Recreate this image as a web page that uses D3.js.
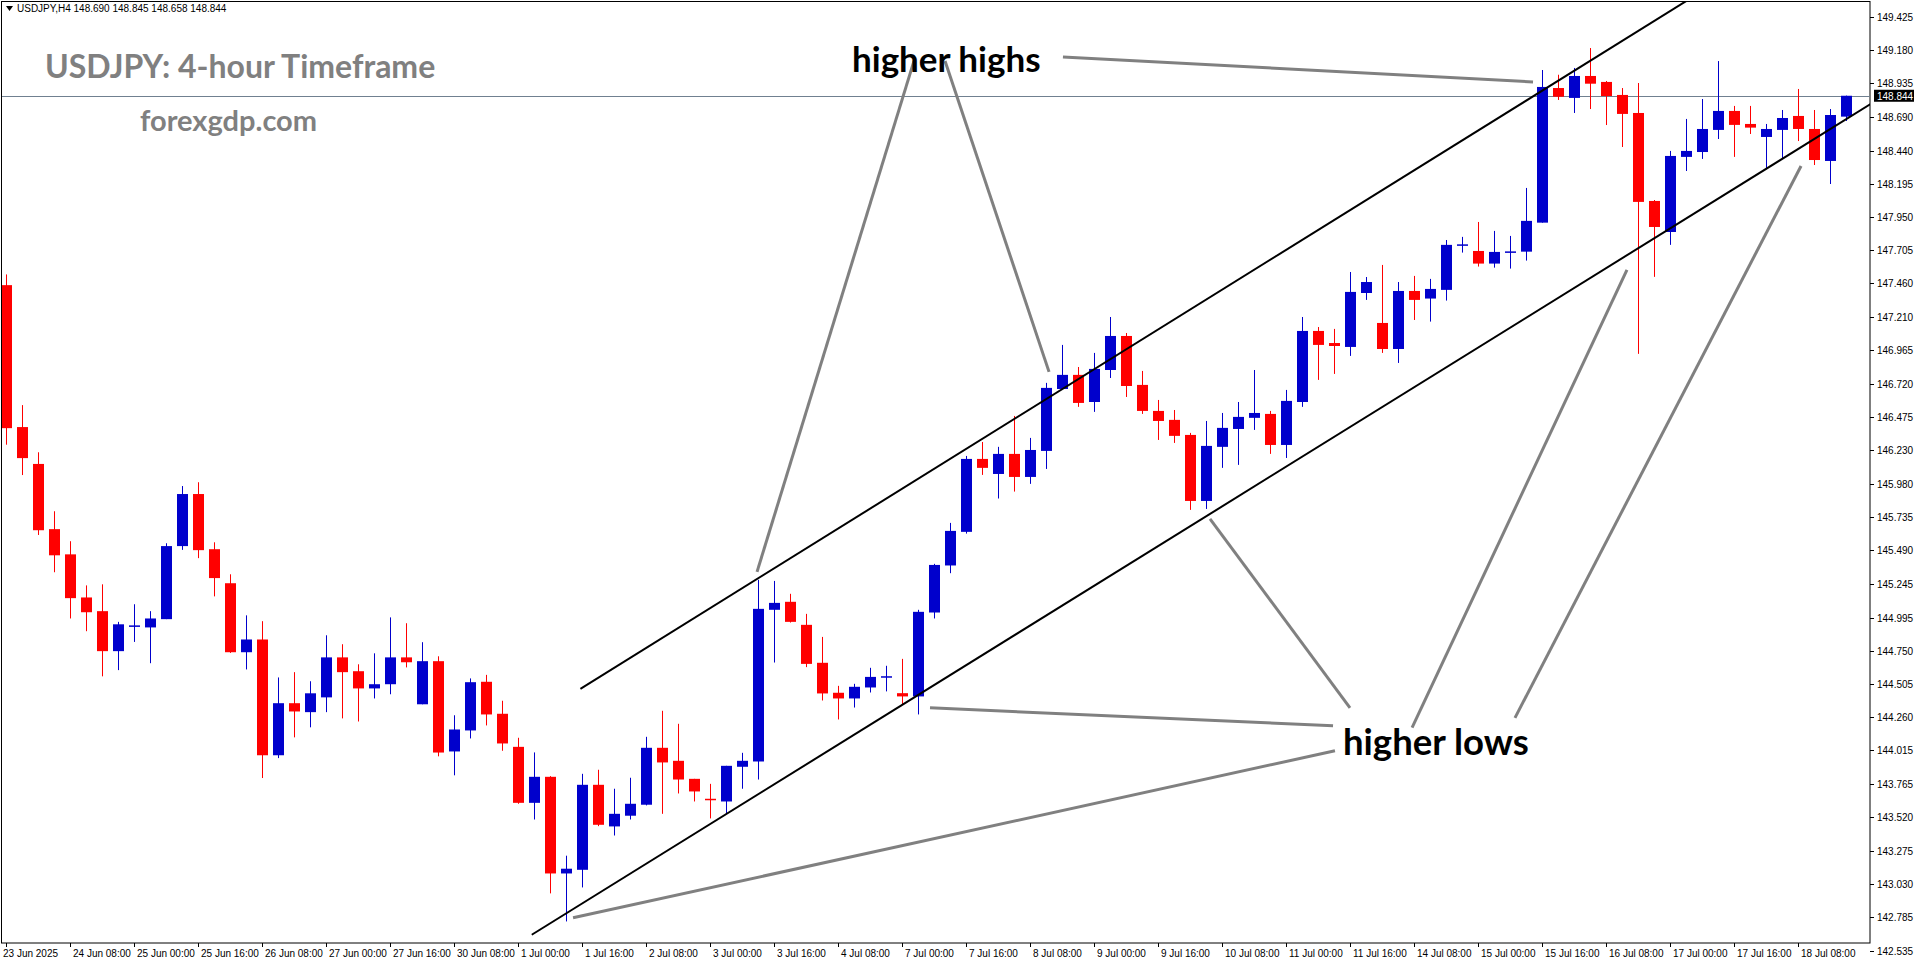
<!DOCTYPE html>
<html>
<head>
<meta charset="utf-8">
<script src="https://cdn.jsdelivr.net/npm/d3@7"></script>
<style>
  body { margin: 0; background: #fff; }
  svg { display: block; }
</style>
</head>
<body>
<div id="chart"></div>
<script>
// USDJPY H4 candles, oldest first (open, high, low, close)
var opens = [147.447,146.400,146.128,145.647,145.461,145.143,145.042,144.747,144.927,144.922,
  144.983,145.522,145.906,145.499,145.248,144.739,144.833,143.979,144.363,144.297,
  144.406,144.701,144.599,144.472,144.503,144.701,144.355,144.673,144.007,144.162,
  144.521,144.285,144.041,143.628,143.820,143.107,143.134,143.761,143.454,143.533,
  143.614,144.034,143.938,143.805,143.658,143.638,143.894,143.933,145.052,145.111,
  144.941,144.661,144.440,144.398,144.479,144.560,144.437,144.413,145.032,145.379,
  145.627,146.165,146.054,146.202,146.032,146.224,146.681,146.785,146.585,146.821,
  147.072,146.711,146.519,146.453,146.342,145.855,146.254,146.386,146.468,146.497,
  146.268,146.585,147.109,147.020,146.991,147.389,147.168,146.976,147.404,147.348,
  147.412,147.740,147.699,147.606,147.690,147.694,147.908,148.901,148.828,148.990,
  148.946,148.850,148.717,148.068,147.839,148.393,148.429,148.592,148.732,148.636,
  148.540,148.592,148.695,148.599,148.363,148.690];
var highs = [147.526,146.562,146.214,145.779,145.558,145.232,145.240,144.963,145.093,145.042,
  145.543,145.965,145.993,145.550,145.314,145.011,144.968,144.553,144.592,144.525,
  144.864,144.798,144.650,144.731,144.996,144.953,144.813,144.709,144.274,144.546,
  144.572,144.381,144.108,144.000,143.825,143.238,143.842,143.872,143.732,143.813,
  144.115,144.307,144.211,143.805,143.768,143.901,143.997,145.273,145.265,145.170,
  145.022,144.852,144.491,144.506,144.624,144.639,144.690,145.052,145.391,145.693,
  146.187,146.290,146.254,146.482,146.320,146.726,147.006,146.843,146.947,147.212,
  147.094,146.814,146.600,146.526,146.357,146.445,146.504,146.585,146.821,146.519,
  146.674,147.212,147.138,147.124,147.544,147.507,147.596,147.470,147.515,147.493,
  147.780,147.803,147.913,147.847,147.810,148.164,149.034,148.999,149.049,149.196,
  148.953,148.901,148.938,148.075,148.437,148.673,148.820,149.100,148.769,148.769,
  148.636,148.739,148.894,148.739,148.746,148.845];
var lows = [146.270,146.046,145.604,145.329,144.988,144.894,144.561,144.607,144.815,144.658,
  144.983,145.494,145.433,145.151,144.734,144.612,143.811,143.958,144.111,144.185,
  144.297,144.251,144.228,144.398,144.429,144.627,144.355,143.971,143.831,144.103,
  144.199,144.012,143.621,143.505,142.960,142.753,143.004,143.456,143.387,143.505,
  143.609,143.547,143.697,143.638,143.513,143.547,143.732,143.800,144.663,144.958,
  144.629,144.383,144.243,144.331,144.442,144.450,144.353,144.280,144.988,145.322,
  145.614,146.047,145.873,145.924,145.981,146.091,146.681,146.549,146.512,146.762,
  146.622,146.497,146.305,146.283,145.789,145.796,146.099,146.121,146.379,146.202,
  146.172,146.549,146.748,146.792,146.925,147.338,146.947,146.873,147.190,147.178,
  147.333,147.687,147.584,147.576,147.569,147.628,147.908,148.813,148.717,148.746,
  148.628,148.466,146.940,147.508,147.744,148.289,148.378,148.525,148.393,148.562,
  148.304,148.385,148.510,148.333,148.193,148.658];
var closes = [146.392,146.171,145.639,145.454,145.138,145.034,144.747,144.945,144.937,144.988,
  145.522,145.906,145.492,145.286,144.739,144.833,143.979,144.363,144.302,144.436,
  144.701,144.592,144.472,144.503,144.701,144.665,144.673,143.999,144.169,144.518,
  144.280,144.066,143.628,143.820,143.107,143.142,143.761,143.466,143.547,143.621,
  144.034,143.926,143.800,143.712,143.653,143.901,143.938,145.059,145.103,144.963,
  144.653,144.435,144.398,144.484,144.557,144.562,144.413,145.037,145.383,145.634,
  146.165,146.099,146.202,146.032,146.231,146.689,146.785,146.578,146.829,147.072,
  146.703,146.519,146.445,146.335,145.855,146.261,146.394,146.475,146.504,146.268,
  146.593,147.109,147.006,146.998,147.397,147.470,146.976,147.404,147.338,147.419,
  147.744,147.748,147.606,147.692,147.696,147.921,148.909,148.837,148.990,148.933,
  148.842,148.710,148.061,147.876,148.400,148.437,148.599,148.732,148.629,148.609,
  148.599,148.680,148.599,148.370,148.702,148.844];

var priceTicks = ["149.425","149.180","148.935","148.690","148.440","148.195","147.950","147.705",
  "147.460","147.210","146.965","146.720","146.475","146.230","145.980","145.735","145.490",
  "145.245","144.995","144.750","144.505","144.260","144.015","143.765","143.520","143.275",
  "143.030","142.785","142.535"];
var dateLabels = ["23 Jun 2025","24 Jun 08:00","25 Jun 00:00","25 Jun 16:00","26 Jun 08:00",
  "27 Jun 00:00","27 Jun 16:00","30 Jun 08:00","1 Jul 00:00","1 Jul 16:00","2 Jul 08:00",
  "3 Jul 00:00","3 Jul 16:00","4 Jul 08:00","7 Jul 00:00","7 Jul 16:00","8 Jul 08:00",
  "9 Jul 00:00","9 Jul 16:00","10 Jul 08:00","11 Jul 00:00","11 Jul 16:00","14 Jul 08:00",
  "15 Jul 00:00","15 Jul 16:00","16 Jul 08:00","17 Jul 00:00","17 Jul 16:00","18 Jul 08:00"];
var labelEvery = 4;
var lastPrice = 148.844;

// channel lines and pointer lines: [bar, price] pairs
var channelUpper = [[35.9, 144.469], [106, 149.615]];
var channelLower = [[32.86, 142.655], [118, 148.890]];
var highPointers = [
  [[56.75, 149.101], [46.94, 145.332]],
  [[58.69, 149.101], [65.19, 146.807]],
  [[66.06, 149.130], [95.44, 148.946]]
];
var lowPointers = [
  [[84.0, 144.329], [75.25, 145.723]],
  [[82.94, 144.196], [57.75, 144.329]],
  [[83.06, 144.012], [35.44, 142.780]],
  [[87.88, 144.182], [101.31, 147.559]],
  [[94.31, 144.255], [112.19, 148.326]]
];

var W = 1916, H = 964, plotR = 1870, plotB = 943;
var axisFont = "Liberation Sans, Arial, sans-serif";

var candles = opens.map(function(o, i) {
  return {i: i, o: o, h: highs[i], l: lows[i], c: closes[i]};
});

var x = d3.scaleLinear().domain([0, 1]).range([6, 22]);
var y = d3.scaleLinear().domain([142.535, 149.425]).range([951, 17]);

var svg = d3.select("#chart").append("svg")
  .attr("width", W).attr("height", H);

svg.append("defs").append("clipPath").attr("id", "plot")
  .append("rect").attr("x", 2).attr("y", 2).attr("width", plotR - 2).attr("height", plotB - 2);

// frame
svg.append("rect").attr("x", 1.5).attr("y", 1.5)
  .attr("width", plotR - 1.5).attr("height", plotB - 1.5)
  .attr("fill", "none").attr("stroke", "#000").attr("stroke-width", 1);

var plot = svg.append("g").attr("clip-path", "url(#plot)");

// last price line
plot.append("line")
  .attr("x1", 0).attr("x2", plotR)
  .attr("y1", Math.round(y(lastPrice)) + 0.5).attr("y2", Math.round(y(lastPrice)) + 0.5)
  .attr("stroke", "#708090").attr("stroke-width", 1);

// candles
var g = plot.selectAll("g.candle").data(candles).enter().append("g").attr("class", "candle");
g.append("line")
  .attr("x1", function(d) { return Math.round(x(d.i)) + 0.5; })
  .attr("x2", function(d) { return Math.round(x(d.i)) + 0.5; })
  .attr("y1", function(d) { return y(d.h); })
  .attr("y2", function(d) { return y(d.l); })
  .attr("stroke", function(d) { return d.c >= d.o ? "#0000cc" : "#ff0000"; })
  .attr("stroke-width", 1);
g.append("rect")
  .attr("x", function(d) { return Math.round(x(d.i)) - 5; })
  .attr("width", 11)
  .attr("y", function(d) { return y(Math.max(d.o, d.c)); })
  .attr("height", function(d) { return Math.max(1.5, Math.abs(y(d.o) - y(d.c))); })
  .attr("fill", function(d) { return d.c >= d.o ? "#0000cc" : "#ff0000"; });

var line = d3.line()
  .x(function(p) { return x(p[0]); })
  .y(function(p) { return y(p[1]); });

// channel
[channelUpper, channelLower].forEach(function(l) {
  plot.append("path").attr("d", line(l))
    .attr("fill", "none").attr("stroke", "#000").attr("stroke-width", 2);
});

// pointers
highPointers.concat(lowPointers).forEach(function(l) {
  plot.append("path").attr("d", line(l))
    .attr("fill", "none").attr("stroke", "#808080").attr("stroke-width", 3);
});

// annotation text
svg.append("text").attr("x", 852).attr("y", 72)
  .attr("font-family", "Lato, sans-serif").attr("font-weight", "bold")
  .attr("font-size", 35).attr("fill", "#000").text("higher highs");
svg.append("text").attr("x", 1343).attr("y", 755)
  .attr("font-family", "Lato, sans-serif").attr("font-weight", "bold")
  .attr("font-size", 36.5).attr("fill", "#000").text("higher lows");
svg.append("text").attr("x", 45).attr("y", 78)
  .attr("font-family", "Lato, sans-serif").attr("font-weight", "bold")
  .attr("font-size", 32).attr("fill", "#808080").text("USDJPY: 4-hour Timeframe");
svg.append("text").attr("x", 140).attr("y", 131)
  .attr("font-family", "Lato, sans-serif").attr("font-weight", "bold")
  .attr("font-size", 29).attr("fill", "#808080").text("forexgdp.com");

// header
svg.append("path").attr("d", "M6,6 L13,6 L9.5,11 Z").attr("fill", "#000");
svg.append("text").attr("x", 17).attr("y", 12)
  .attr("font-family", axisFont).attr("font-size", 10).attr("fill", "#000")
  .text("USDJPY,H4  148.690 148.845 148.658 148.844");

// price axis
var axis = svg.append("g");
axis.selectAll("line.tick").data(priceTicks).enter().append("line")
  .attr("x1", plotR).attr("x2", plotR + 4)
  .attr("y1", function(t) { return Math.round(y(+t)) + 0.5; })
  .attr("y2", function(t) { return Math.round(y(+t)) + 0.5; })
  .attr("stroke", "#000");
axis.selectAll("text").data(priceTicks).enter().append("text")
  .attr("x", plotR + 7)
  .attr("y", function(t) { return y(+t) + 4; })
  .attr("font-family", axisFont).attr("font-size", 10).attr("fill", "#000")
  .text(function(t) { return t; });

axis.append("rect").attr("x", plotR + 4).attr("y", y(lastPrice) - 6)
  .attr("width", 40).attr("height", 12).attr("fill", "#000");
axis.append("text").attr("x", plotR + 7).attr("y", y(lastPrice) + 4)
  .attr("font-family", axisFont).attr("font-size", 10).attr("fill", "#fff")
  .text(lastPrice.toFixed(3));

// time axis
var dg = svg.append("g");
dg.selectAll("line").data(dateLabels).enter().append("line")
  .attr("x1", function(t, k) { return Math.round(x(k * labelEvery)) + 0.5; })
  .attr("x2", function(t, k) { return Math.round(x(k * labelEvery)) + 0.5; })
  .attr("y1", plotB).attr("y2", plotB + 4).attr("stroke", "#000");
dg.selectAll("text").data(dateLabels).enter().append("text")
  .attr("x", function(t, k) { return k === 0 ? 3 : x(k * labelEvery) + 3; })
  .attr("y", plotB + 14)
  .attr("font-family", axisFont).attr("font-size", 10).attr("fill", "#000")
  .text(function(t) { return t; });
</script>
</body>
</html>
